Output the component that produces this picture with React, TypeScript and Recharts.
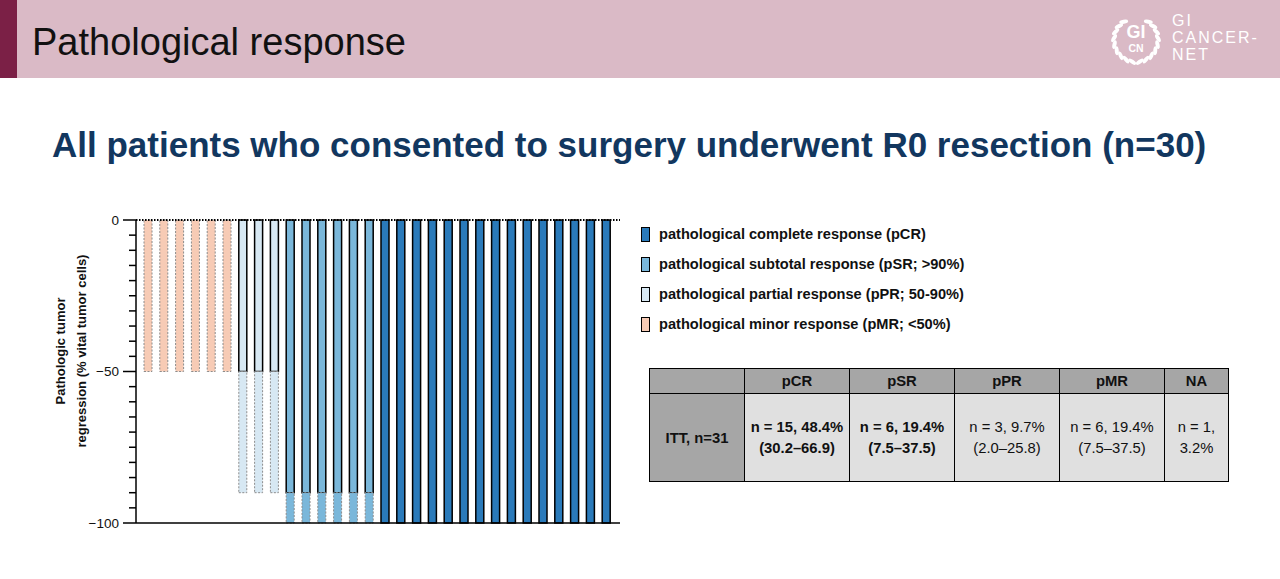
import React from 'react';
import { BarChart, Bar, XAxis, YAxis, Cell, ReferenceLine } from 'recharts';

const FONT = '"Liberation Sans", Arial, Helvetica, sans-serif';

// one bar per resected patient, ordered by response class
const patients = [
  'P1', 'P2', 'P3', 'P4', 'P5', 'P6', 'P7', 'P8', 'P9', 'P10',
  'P11', 'P12', 'P13', 'P14', 'P15', 'P16', 'P17', 'P18', 'P19', 'P20',
  'P21', 'P22', 'P23', 'P24', 'P25', 'P26', 'P27', 'P28', 'P29', 'P30',
];
const responseClass = [
  'pMR', 'pMR', 'pMR', 'pMR', 'pMR', 'pMR',
  'pPR', 'pPR', 'pPR',
  'pSR', 'pSR', 'pSR', 'pSR', 'pSR', 'pSR',
  'pCR', 'pCR', 'pCR', 'pCR', 'pCR', 'pCR', 'pCR', 'pCR', 'pCR', 'pCR',
  'pCR', 'pCR', 'pCR', 'pCR', 'pCR',
];
// confirmed regression (solid outline)
const confirmedRegression = [
  0, 0, 0, 0, 0, 0,
  -50, -50, -50,
  -90, -90, -90, -90, -90, -90,
  -100, -100, -100, -100, -100, -100, -100, -100, -100, -100,
  -100, -100, -100, -100, -100,
];
// remaining possible range of the class (dotted outline)
const regressionRange = [
  -50, -50, -50, -50, -50, -50,
  -40, -40, -40,
  -10, -10, -10, -10, -10, -10,
  0, 0, 0, 0, 0, 0, 0, 0, 0, 0,
  0, 0, 0, 0, 0,
];

const yTicks = [0, -5, -10, -15, -20, -25, -30, -35, -40, -45, -50, -55, -60, -65, -70, -75, -80, -85, -90, -95, -100];
const yTickLabels = [0, -50, -100];

const classColors: Record<string, string> = {
  pCR: '#2a7aba',
  pSR: '#7ab7da',
  pPR: '#d7e8f3',
  pMR: '#f7cbb5',
};

const legendItems = [
  { key: 'pCR', label: 'pathological complete response (pCR)' },
  { key: 'pSR', label: 'pathological subtotal response (pSR; >90%)' },
  { key: 'pPR', label: 'pathological partial response (pPR; 50-90%)' },
  { key: 'pMR', label: 'pathological minor response (pMR; <50%)' },
];

const tableHeader = ['', 'pCR', 'pSR', 'pPR', 'pMR', 'NA'];
const tableColWidths = [95, 105, 105, 105, 105, 64];
const tableRowLabel = 'ITT, n=31';
const tableCells = [
  ['n = 15, 48.4%', '(30.2–66.9)'],
  ['n = 6, 19.4%', '(7.5–37.5)'],
  ['n = 3, 9.7%', '(2.0–25.8)'],
  ['n = 6, 19.4%', '(7.5–37.5)'],
  ['n = 1,', '3.2%'],
];
const tableBold = [true, true, false, false, false];

const chartData = patients.map((p, i) => ({
  patient: p,
  response: responseClass[i],
  confirmed: confirmedRegression[i],
  range: regressionRange[i],
}));

const YTick = (props: any) => {
  const { x, y, payload } = props;
  const v = payload.value;
  const major = yTickLabels.includes(v);
  return (
    <g>
      <line x1={x - (major ? 13 : 7)} x2={x} y1={y} y2={y} stroke="#000" strokeWidth={1.5} />
      {major && (
        <text x={x - 17} y={y} dy={4.5} textAnchor="end" fontSize={13.5} fontFamily={FONT} fill="#111">
          {String(v).replace('-', '\u2212')}
        </text>
      )}
    </g>
  );
};

const Logo = () => {
  const cx = 1136;
  const cy = 40;
  const r = 22;
  const angles = [100, 117, 134, 151, 168, 185, 202, 219, 236];
  return (
    <g fill="#fff">
      {angles.map((a) => {
        const t = (a * Math.PI) / 180;
        const lx = cx + r * Math.cos(t);
        const ly = cy + r * Math.sin(t);
        const rx = cx + r * Math.cos(Math.PI - t);
        return (
          <g key={a}>
            <ellipse cx={lx} cy={ly} rx={2} ry={4.5} transform={`rotate(${a + 25} ${lx} ${ly})`} />
            <ellipse cx={rx} cy={ly} rx={2} ry={4.5} transform={`rotate(${-(a + 25)} ${rx} ${ly})`} />
          </g>
        );
      })}
      <text x={cx} y={38} textAnchor="middle" fontSize={18} fontWeight="bold" fontFamily={FONT}>GI</text>
      <text x={cx} y={52} textAnchor="middle" fontSize={10.5} fontWeight="bold" fontFamily={FONT}>CN</text>
      <g fontSize={16} fontFamily={FONT} letterSpacing={2}>
        <text x={1172} y={26}>GI</text>
        <text x={1172} y={43}>CANCER-</text>
        <text x={1172} y={60}>NET</text>
      </g>
    </g>
  );
};

export default function App() {
  const cells = chartData.map((d) => <Cell key={d.patient} fill={classColors[d.response]} />);
  const cellBorder = '1.5px solid #000';
  return (
    <div style={{ position: 'absolute', left: 0, top: 0, width: 1280, height: 579, background: '#fff', fontFamily: FONT, overflow: 'hidden' }}>
      <svg width={1280} height={579} style={{ position: 'absolute', left: 0, top: 0 }}>
        <rect x={0} y={0} width={1280} height={78} fill="#dabac6" />
        <rect x={0} y={0} width={17} height={78} fill="#7b2046" />
        <text x={32} y={55} fontSize={38} fontFamily={FONT} fill="#111">Pathological response</text>
        <Logo />
        <text x={52} y={157} fontSize={35} fontWeight="bold" fontFamily={FONT} fill="#12375f">
          All patients who consented to surgery underwent R0 resection (n=30)
        </text>
        <g fontFamily={FONT} fontSize={13} fontWeight="bold" fill="#111" textAnchor="middle">
          <text x={64.5} y={351} transform="rotate(-90 64.5 351)">Pathologic tumor</text>
          <text x={85.5} y={351} transform="rotate(-90 85.5 351)">regression (% vital tumor cells)</text>
        </g>
      </svg>

      <div style={{ position: 'absolute', left: 0, top: 200 }}>
        <BarChart width={640} height={340} data={chartData} margin={{ top: 20, right: 20, left: 0, bottom: 16 }} barSize={8}>
          <XAxis
            dataKey="patient"
            tick={false}
            tickLine={false}
            height={1}
            axisLine={{ stroke: '#000', strokeWidth: 1.5 }}
            padding={{ left: 4, right: 6 }}
          />
          <YAxis
            type="number"
            domain={[-100, 0]}
            ticks={yTicks}
            interval={0}
            width={136}
            tickSize={0}
            tickMargin={0}
            tickLine={false}
            tick={<YTick />}
            axisLine={{ stroke: '#000', strokeWidth: 1.5 }}
          />
          <Bar dataKey="confirmed" stackId="r" stroke="#000" strokeWidth={1.5} isAnimationActive={false}>
            {cells}
          </Bar>
          <Bar dataKey="range" stackId="r" stroke="#8c8c8c" strokeWidth={1} strokeDasharray="2 1.5" isAnimationActive={false}>
            {cells}
          </Bar>
          <ReferenceLine y={0} stroke="#000" strokeWidth={2} strokeDasharray="1.5 1.5" />
        </BarChart>
      </div>

      <div style={{ position: 'absolute', left: 641, top: 219 }}>
        {legendItems.map((item) => (
          <div key={item.key} style={{ display: 'flex', alignItems: 'center', height: 30 }}>
            <div
              style={{
                width: 9,
                height: 15,
                boxSizing: 'border-box',
                border: '1.5px solid #000',
                background: classColors[item.key],
                marginRight: 9,
              }}
            />
            <span style={{ fontSize: 14.6, fontWeight: 'bold', color: '#111', whiteSpace: 'nowrap' }}>{item.label}</span>
          </div>
        ))}
      </div>

      <table
        style={{
          position: 'absolute',
          left: 649,
          top: 368,
          width: 579,
          borderCollapse: 'collapse',
          tableLayout: 'fixed',
          fontSize: 14.8,
          color: '#111',
          textAlign: 'center',
        }}
      >
        <colgroup>
          {tableColWidths.map((w, i) => <col key={i} style={{ width: w }} />)}
        </colgroup>
        <tbody>
          <tr style={{ height: 25 }}>
            {tableHeader.map((h, i) => (
              <td key={i} style={{ border: cellBorder, background: '#a6a6a6', fontWeight: 'bold', padding: 0 }}>{h}</td>
            ))}
          </tr>
          <tr style={{ height: 88 }}>
            <td style={{ border: cellBorder, background: '#a6a6a6', fontWeight: 'bold', padding: 0 }}>{tableRowLabel}</td>
            {tableCells.map((c, i) => (
              <td
                key={i}
                style={{
                  border: cellBorder,
                  background: '#e0e0e0',
                  fontWeight: tableBold[i] ? 'bold' : 'normal',
                  lineHeight: '21px',
                  padding: 0,
                  whiteSpace: 'nowrap',
                }}
              >
                {c[0]}
                <br />
                {c[1]}
              </td>
            ))}
          </tr>
        </tbody>
      </table>
    </div>
  );
}
